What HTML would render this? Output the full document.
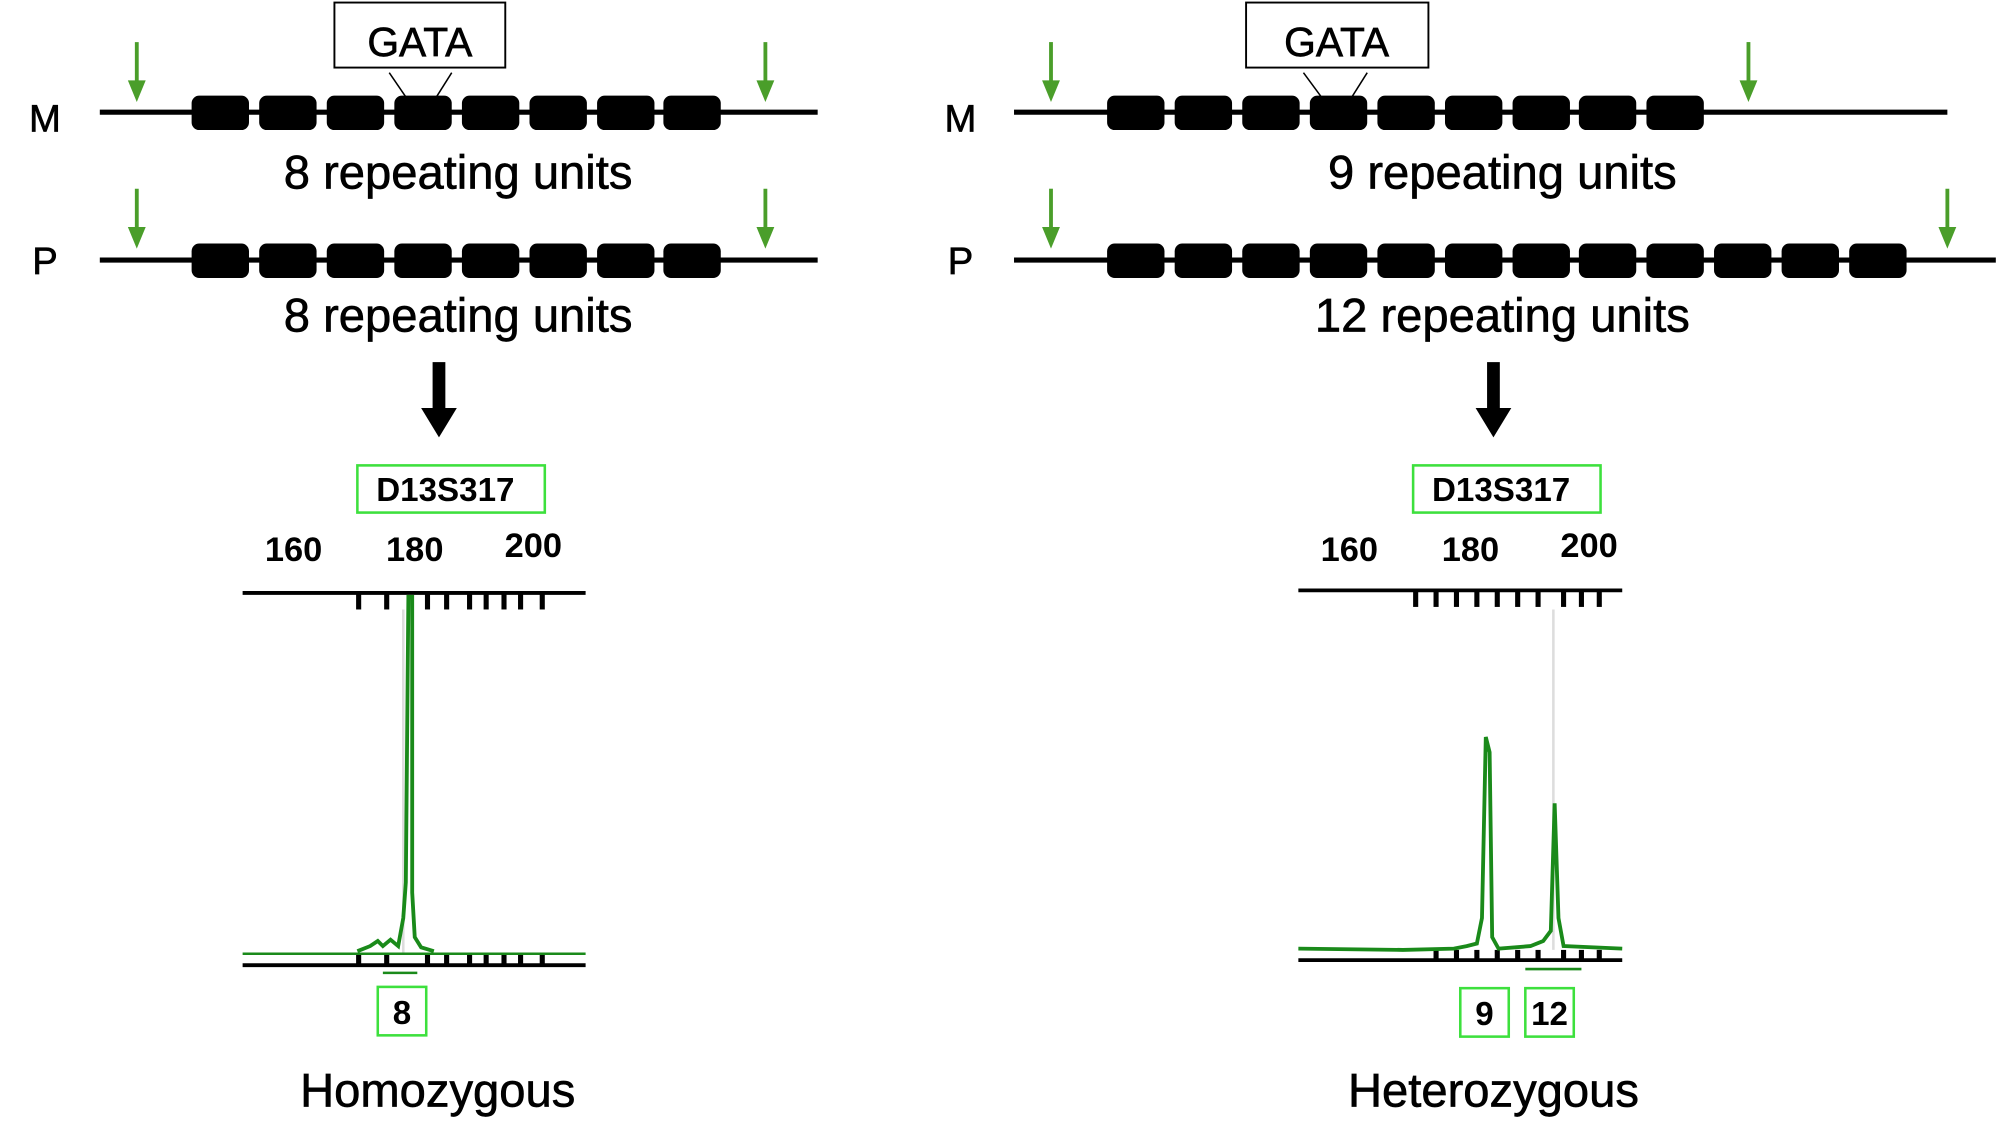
<!DOCTYPE html>
<html><head><meta charset="utf-8"><style>html,body{margin:0;padding:0;background:#fff}svg{display:block}</style></head>
<body>
<svg width="2000" height="1145" viewBox="0 0 1568 898" xmlns="http://www.w3.org/2000/svg" font-family="Liberation Sans, sans-serif">
<defs>
<g id="garrow"><line x1="0" y1="0" x2="0" y2="34" stroke="#4a9e2a" stroke-width="3"/><polygon points="-7,30 7,30 0,47" fill="#4a9e2a"/></g>
</defs>
<!-- LEFT -->
<text x="35" y="103" font-size="30" text-anchor="middle" stroke="#000" stroke-width="0.5">M</text>
<line x1="78" y1="88" x2="641" y2="88" stroke="#000" stroke-width="4"/>
<g fill="#000">
<rect x="150" y="75" width="45" height="27" rx="6"/><rect x="203" y="75" width="45" height="27" rx="6"/><rect x="256" y="75" width="45" height="27" rx="6"/><rect x="309" y="75" width="45" height="27" rx="6"/><rect x="362" y="75" width="45" height="27" rx="6"/><rect x="415" y="75" width="45" height="27" rx="6"/><rect x="468" y="75" width="45" height="27" rx="6"/><rect x="520" y="75" width="45" height="27" rx="6"/>
</g>
<use href="#garrow" x="107" y="33"/><use href="#garrow" x="600" y="33"/>
<rect x="262" y="2" width="134" height="51" fill="#fff" stroke="#000" stroke-width="1.5"/>
<text x="329" y="44" font-size="32" text-anchor="middle" stroke="#000" stroke-width="0.5">GATA</text>
<line x1="305" y1="57" x2="318" y2="76" stroke="#000" stroke-width="1.2"/><line x1="354" y1="57" x2="342" y2="76" stroke="#000" stroke-width="1.2"/>
<text x="359" y="148" font-size="37" text-anchor="middle" stroke="#000" stroke-width="0.5">8 repeating units</text>
<text x="35" y="215" font-size="30" text-anchor="middle" stroke="#000" stroke-width="0.5">P</text>
<line x1="78" y1="204" x2="641" y2="204" stroke="#000" stroke-width="4"/>
<g fill="#000">
<rect x="150" y="191" width="45" height="27" rx="6"/><rect x="203" y="191" width="45" height="27" rx="6"/><rect x="256" y="191" width="45" height="27" rx="6"/><rect x="309" y="191" width="45" height="27" rx="6"/><rect x="362" y="191" width="45" height="27" rx="6"/><rect x="415" y="191" width="45" height="27" rx="6"/><rect x="468" y="191" width="45" height="27" rx="6"/><rect x="520" y="191" width="45" height="27" rx="6"/>
</g>
<use href="#garrow" x="107" y="148"/><use href="#garrow" x="600" y="148"/>
<text x="359" y="260" font-size="37" text-anchor="middle" stroke="#000" stroke-width="0.5">8 repeating units</text>
<rect x="339" y="284" width="10" height="38" fill="#000"/><polygon points="330,320 358,320 344,343" fill="#000"/>
<rect x="280" y="365" width="147" height="37" fill="#fff" stroke="#3de03d" stroke-width="2"/>
<text x="349" y="393" font-size="26" font-weight="bold" text-anchor="middle">D13S317</text>
<g font-size="27" font-weight="bold" text-anchor="middle"><text x="230" y="440">160</text><text x="325" y="440">180</text><text x="418" y="437">200</text></g>
<line x1="190" y1="465" x2="459" y2="465" stroke="#000" stroke-width="3"/>
<g stroke="#000" stroke-width="4"><line x1="281" y1="465" x2="281" y2="478"/><line x1="303" y1="465" x2="303" y2="478"/><line x1="335" y1="465" x2="335" y2="478"/><line x1="350" y1="465" x2="350" y2="478"/><line x1="368" y1="465" x2="368" y2="478"/><line x1="381" y1="465" x2="381" y2="478"/><line x1="395" y1="465" x2="395" y2="478"/><line x1="408" y1="465" x2="408" y2="478"/><line x1="425" y1="465" x2="425" y2="478"/></g>
<g stroke="#000" stroke-width="4"><line x1="281" y1="748" x2="281" y2="757"/><line x1="303" y1="748" x2="303" y2="757"/><line x1="335" y1="748" x2="335" y2="757"/><line x1="350" y1="748" x2="350" y2="757"/><line x1="368" y1="748" x2="368" y2="757"/><line x1="381" y1="748" x2="381" y2="757"/><line x1="395" y1="748" x2="395" y2="757"/><line x1="408" y1="748" x2="408" y2="757"/><line x1="425" y1="748" x2="425" y2="757"/></g>
<line x1="316" y1="478" x2="316" y2="748" stroke="#ddd" stroke-width="2"/>
<line x1="190" y1="748" x2="459" y2="748" stroke="#1a8a1a" stroke-width="2"/>
<line x1="190" y1="757" x2="459" y2="757" stroke="#000" stroke-width="3"/>
<polyline points="280,746 290,742 296,738 300,742 306,737 312,742 316,720 318,692 320,468 323,468 323,700 325,735 330,743 340,746" fill="none" stroke="#1a8a1a" stroke-width="3"/>
<line x1="300" y1="763" x2="327" y2="763" stroke="#1a8a1a" stroke-width="2"/>
<rect x="296" y="774" width="38" height="38" fill="#fff" stroke="#3de03d" stroke-width="2"/>
<text x="315" y="803" font-size="26" font-weight="bold" text-anchor="middle">8</text>
<text x="343" y="868" font-size="37" text-anchor="middle" stroke="#000" stroke-width="0.5">Homozygous</text>
<!-- RIGHT -->
<text x="753" y="103" font-size="30" text-anchor="middle" stroke="#000" stroke-width="0.5">M</text>
<line x1="795" y1="88" x2="1527" y2="88" stroke="#000" stroke-width="4"/>
<g fill="#000">
<rect x="868" y="75" width="45" height="27" rx="6"/><rect x="921" y="75" width="45" height="27" rx="6"/><rect x="974" y="75" width="45" height="27" rx="6"/><rect x="1027" y="75" width="45" height="27" rx="6"/><rect x="1080" y="75" width="45" height="27" rx="6"/><rect x="1133" y="75" width="45" height="27" rx="6"/><rect x="1186" y="75" width="45" height="27" rx="6"/><rect x="1238" y="75" width="45" height="27" rx="6"/><rect x="1291" y="75" width="45" height="27" rx="6"/>
</g>
<use href="#garrow" x="824" y="33"/><use href="#garrow" x="1371" y="33"/>
<rect x="977" y="2" width="143" height="51" fill="#fff" stroke="#000" stroke-width="1.5"/>
<text x="1048" y="44" font-size="32" text-anchor="middle" stroke="#000" stroke-width="0.5">GATA</text>
<line x1="1022" y1="57" x2="1036" y2="76" stroke="#000" stroke-width="1.2"/><line x1="1072" y1="57" x2="1060" y2="76" stroke="#000" stroke-width="1.2"/>
<text x="1178" y="148" font-size="37" text-anchor="middle" stroke="#000" stroke-width="0.5">9 repeating units</text>
<text x="753" y="215" font-size="30" text-anchor="middle" stroke="#000" stroke-width="0.5">P</text>
<line x1="795" y1="204" x2="1565" y2="204" stroke="#000" stroke-width="4"/>
<g fill="#000">
<rect x="868" y="191" width="45" height="27" rx="6"/><rect x="921" y="191" width="45" height="27" rx="6"/><rect x="974" y="191" width="45" height="27" rx="6"/><rect x="1027" y="191" width="45" height="27" rx="6"/><rect x="1080" y="191" width="45" height="27" rx="6"/><rect x="1133" y="191" width="45" height="27" rx="6"/><rect x="1186" y="191" width="45" height="27" rx="6"/><rect x="1238" y="191" width="45" height="27" rx="6"/><rect x="1291" y="191" width="45" height="27" rx="6"/><rect x="1344" y="191" width="45" height="27" rx="6"/><rect x="1397" y="191" width="45" height="27" rx="6"/><rect x="1450" y="191" width="45" height="27" rx="6"/>
</g>
<use href="#garrow" x="824" y="148"/><use href="#garrow" x="1527" y="148"/>
<text x="1178" y="260" font-size="37" text-anchor="middle" stroke="#000" stroke-width="0.5">12 repeating units</text>
<rect x="1166" y="284" width="10" height="38" fill="#000"/><polygon points="1157,320 1185,320 1171,343" fill="#000"/>
<rect x="1108" y="365" width="147" height="37" fill="#fff" stroke="#3de03d" stroke-width="2"/>
<text x="1177" y="393" font-size="26" font-weight="bold" text-anchor="middle">D13S317</text>
<g font-size="27" font-weight="bold" text-anchor="middle"><text x="1058" y="440">160</text><text x="1153" y="440">180</text><text x="1246" y="437">200</text></g>
<line x1="1018" y1="463" x2="1272" y2="463" stroke="#000" stroke-width="3"/>
<g stroke="#000" stroke-width="4"><line x1="1110" y1="463" x2="1110" y2="476"/><line x1="1126" y1="463" x2="1126" y2="476"/><line x1="1142" y1="463" x2="1142" y2="476"/><line x1="1158" y1="463" x2="1158" y2="476"/><line x1="1174" y1="463" x2="1174" y2="476"/><line x1="1190" y1="463" x2="1190" y2="476"/><line x1="1206" y1="463" x2="1206" y2="476"/><line x1="1226" y1="463" x2="1226" y2="476"/><line x1="1240" y1="463" x2="1240" y2="476"/><line x1="1254" y1="463" x2="1254" y2="476"/></g>
<g stroke="#000" stroke-width="4"><line x1="1126" y1="745" x2="1126" y2="753"/><line x1="1142" y1="745" x2="1142" y2="753"/><line x1="1158" y1="745" x2="1158" y2="753"/><line x1="1174" y1="745" x2="1174" y2="753"/><line x1="1190" y1="745" x2="1190" y2="753"/><line x1="1206" y1="745" x2="1206" y2="753"/><line x1="1226" y1="745" x2="1226" y2="753"/><line x1="1240" y1="745" x2="1240" y2="753"/><line x1="1254" y1="745" x2="1254" y2="753"/></g>
<line x1="1218" y1="478" x2="1218" y2="745" stroke="#ddd" stroke-width="2"/>
<line x1="1018" y1="753" x2="1272" y2="753" stroke="#000" stroke-width="3"/>
<polyline points="1018,744 1100,745 1140,744 1150,742 1158,740 1162,720 1165,578 1168,590 1170,735 1175,744 1200,742 1210,738 1216,730 1219,630 1222,720 1226,742 1272,744" fill="none" stroke="#1a8a1a" stroke-width="3"/>
<line x1="1196" y1="760" x2="1240" y2="760" stroke="#1a8a1a" stroke-width="2"/>
<rect x="1145" y="775" width="38" height="38" fill="#fff" stroke="#3de03d" stroke-width="2"/>
<text x="1164" y="804" font-size="26" font-weight="bold" text-anchor="middle">9</text>
<rect x="1196" y="775" width="38" height="38" fill="#fff" stroke="#3de03d" stroke-width="2"/>
<text x="1215" y="804" font-size="26" font-weight="bold" text-anchor="middle">12</text>
<text x="1171" y="868" font-size="37" text-anchor="middle" stroke="#000" stroke-width="0.5">Heterozygous</text>
</svg>
</body></html>
